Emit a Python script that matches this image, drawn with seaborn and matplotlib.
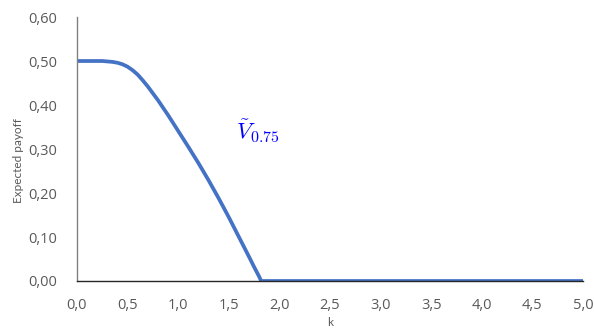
import matplotlib
matplotlib.use("Agg")
import matplotlib.pyplot as plt
import seaborn as sns
import pandas as pd

# Expected payoff as a function of k
k_values = [0.0, 0.1, 0.2, 0.25, 0.3, 0.35, 0.4, 0.45, 0.5, 0.55, 0.6, 0.65, 0.7,
            0.8, 0.9, 1.0, 1.1, 1.2, 1.3, 1.4, 1.5, 1.6, 1.7, 1.75, 1.8, 1.82,
            2.0, 2.5, 3.0, 3.5, 4.0, 4.5, 5.0]
payoff = [0.500, 0.500, 0.500, 0.500, 0.499, 0.498, 0.496, 0.4925, 0.487, 0.479,
          0.469, 0.456, 0.442, 0.411, 0.377, 0.341, 0.305, 0.268, 0.229, 0.188,
          0.145, 0.100, 0.055, 0.032, 0.010, 0.0,
          0.0, 0.0, 0.0, 0.0, 0.0, 0.0, 0.0]

x_ticks = [0.0, 0.5, 1.0, 1.5, 2.0, 2.5, 3.0, 3.5, 4.0, 4.5, 5.0]
y_ticks = [0.0, 0.1, 0.2, 0.3, 0.4, 0.5, 0.6]

sns.set_theme(style="white")
plt.rcParams["font.family"] = ["Open Sans", "DejaVu Sans"]
plt.rcParams["mathtext.fontset"] = "cm"

df = pd.DataFrame({"k": k_values, "payoff": payoff})

fig = plt.figure(figsize=(5.94, 3.29), dpi=100)
ax = fig.add_axes([0.1296, 0.1459, 0.8519, 0.8024])

sns.lineplot(data=df, x="k", y="payoff", ax=ax, color="#4472C4",
             linewidth=2.7, solid_joinstyle="round", solid_capstyle="butt")

ax.set_xlim(0, 5)
ax.set_ylim(0, 0.6)
ax.set_xticks(x_ticks)
ax.set_yticks(y_ticks)
ax.set_xticklabels([f"{v:.1f}".replace(".", ",") for v in x_ticks])
ax.set_yticklabels([f"{v:.2f}".replace(".", ",") for v in y_ticks])
ax.tick_params(axis="both", length=0, labelsize=10.5, labelcolor="#595959")
ax.tick_params(axis="y", pad=14)
ax.tick_params(axis="x", pad=12)

ax.set_xlabel("k", fontsize=8.5, color="#595959", family=["Lato", "DejaVu Sans"])
ax.set_ylabel("Expected payoff", fontsize=8.5, color="#595959",
              family=["Lato", "DejaVu Sans"])
ax.xaxis.set_label_coords(0.5, -0.135)
ax.yaxis.set_label_coords(-0.104, 0.455)

for side in ["top", "right"]:
    ax.spines[side].set_visible(False)
ax.spines["left"].set_color("#808080")
ax.spines["left"].set_linewidth(1.0)
ax.spines["bottom"].set_color("#262626")
ax.spines["bottom"].set_linewidth(1.0)

ax.text(1.57, 0.322, r"$\tilde{V}_{0.75}$", color="#0000FF", fontsize=16.5)

fig.savefig("out.png", dpi=100)
